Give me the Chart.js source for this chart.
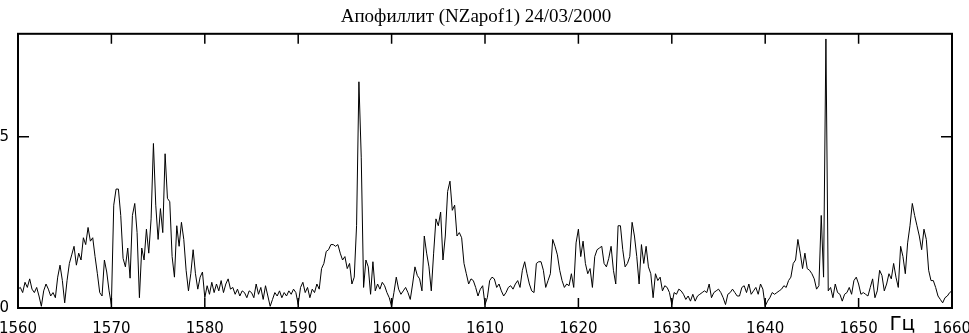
<!DOCTYPE html>
<html>
<head>
<meta charset="utf-8">
<script src="https://cdn.jsdelivr.net/npm/chart.js@4.4.0/dist/chart.umd.min.js"></script>
<style>
  html, body { margin: 0; padding: 0; background: #fff; }
</style>
</head>
<body>
<canvas id="grafica" width="969" height="333"></canvas>
<script>
const titulo = 'Апофиллит (NZapof1) 24/03/2000';
const unidad = 'Гц';
const frecInicio = 1560;
const paso = 0.25;
const ticksX = [1560, 1570, 1580, 1590, 1600, 1610, 1620, 1630, 1640, 1650, 1660];
const ticksY = [0, 5];

// amplitud cada 0.25 Hz, una lista por decena de Hz
const a1560 = [0.55, 0.6, 0.45, 0.75, 0.6, 0.85, 0.55, 0.45, 0.6, 0.35,
               0.05, 0.5, 0.7, 0.55, 0.35, 0.45, 0.3, 0.9, 1.25, 0.8,
               0.15, 0.8, 1.3, 1.55, 1.8, 1.25, 1.6, 1.4, 2.05, 1.85,
               2.35, 1.95, 2.05, 1.5, 1.0, 0.45, 0.35, 1.4, 1.05, 0.5];
const a1570 = [0.1, 3.0, 3.47, 3.47, 2.7, 1.45, 1.2, 1.75, 0.87, 2.7,
               3.05, 2.2, 0.3, 1.75, 1.4, 2.3, 1.6, 2.6, 4.8, 3.0,
               2.0, 2.9, 2.2, 4.5, 3.2, 3.1, 1.5, 0.9, 2.4, 1.8,
               2.5, 2.0, 1.1, 0.5, 1.0, 1.7, 1.0, 0.55, 0.9, 1.05];
const a1580 = [0.3, 0.65, 0.4, 0.75, 0.45, 0.7, 0.5, 0.8, 0.45, 0.7,
               0.85, 0.55, 0.6, 0.4, 0.55, 0.35, 0.5, 0.45, 0.3, 0.5,
               0.45, 0.3, 0.7, 0.4, 0.6, 0.25, 0.65, 0.35, 0.05, 0.25,
               0.45, 0.35, 0.5, 0.3, 0.45, 0.35, 0.5, 0.4, 0.55, 0.45];
const a1590 = [0.1, 0.6, 0.75, 0.45, 0.6, 0.3, 0.55, 0.45, 0.7, 0.55,
               1.15, 1.3, 1.65, 1.7, 1.85, 1.85, 1.8, 1.85, 1.6, 1.4,
               1.5, 1.15, 1.3, 0.7, 0.9, 2.4, 6.6, 4.4, 0.6, 1.4,
               1.2, 0.4, 1.35, 0.5, 0.7, 0.55, 0.75, 0.65, 0.45, 0.3];
const a1600 = [0.05, 0.45, 0.9, 0.55, 0.4, 0.5, 0.6, 0.45, 0.25, 0.7,
               1.2, 0.95, 0.85, 0.5, 2.1, 1.6, 1.2, 0.5, 1.6, 2.6,
               2.4, 2.8, 1.4, 2.1, 3.4, 3.7, 2.85, 3.0, 2.1, 2.2,
               2.05, 1.3, 1.0, 0.7, 0.85, 0.8, 0.6, 0.35, 0.55, 0.65];
const a1610 = [0.1, 0.3, 0.8, 0.9, 0.85, 0.6, 0.7, 0.5, 0.35, 0.45,
               0.6, 0.65, 0.55, 0.7, 0.8, 0.6, 1.1, 1.35, 1.0, 0.7,
               0.5, 0.45, 1.3, 1.35, 1.35, 1.1, 0.6, 0.8, 1.0, 2.0,
               1.8, 1.55, 1.1, 0.8, 0.6, 0.7, 0.65, 1.0, 0.6, 1.9];
const a1620 = [2.3, 1.5, 1.95, 1.3, 1.0, 1.15, 0.6, 1.5, 1.7, 1.75,
               1.8, 1.3, 1.2, 1.45, 1.8, 1.1, 0.7, 2.4, 2.4, 1.7,
               1.2, 1.3, 1.5, 2.5, 2.1, 1.5, 0.7, 1.85, 1.3, 1.8,
               1.2, 1.0, 0.3, 1.0, 0.8, 0.9, 0.5, 0.65, 0.6, 0.45];
const a1630 = [0.1, 0.45, 0.4, 0.55, 0.5, 0.4, 0.25, 0.35, 0.2, 0.4,
               0.2, 0.35, 0.4, 0.45, 0.5, 0.45, 0.7, 0.3, 0.45, 0.5,
               0.55, 0.45, 0.3, 0.1, 0.4, 0.45, 0.55, 0.45, 0.35, 0.35,
               0.6, 0.65, 0.45, 0.7, 0.4, 0.5, 0.6, 0.4, 0.7, 0.55];
const a1640 = [0.05, 0.2, 0.3, 0.45, 0.4, 0.45, 0.5, 0.55, 0.65, 0.6,
               0.8, 0.9, 1.3, 1.4, 2.0, 1.6, 1.15, 1.6, 1.15, 1.1,
               1.0, 0.85, 0.55, 0.65, 2.7, 0.9, 7.85, 0.5, 0.6, 0.3,
               0.7, 0.45, 0.4, 0.2, 0.4, 0.45, 0.6, 0.4, 0.8, 0.9];
const a1650 = [0.7, 0.4, 0.45, 0.4, 0.35, 0.6, 0.85, 0.3, 0.5, 1.1,
               0.95, 0.5, 0.7, 1.0, 0.85, 1.3, 0.9, 0.6, 1.8, 1.5,
               1.0, 1.9, 2.4, 3.05, 2.7, 2.4, 2.1, 1.7, 2.3, 2.0,
               1.1, 0.8, 0.8, 0.6, 0.35, 0.25, 0.15, 0.3, 0.35, 0.45,
               0.5];

const amplitudes = [].concat(a1560, a1570, a1580, a1590, a1600, a1610, a1620, a1630, a1640, a1650);
const puntos = amplitudes.map((v, i) => ({ x: frecInicio + i * paso, y: v }));

const fuenteEjes = { family: 'DejaVu Sans', size: 15 };

// marco, marcas hacia dentro y unidad de frecuencia
const marco = {
  id: 'marco',
  afterDatasetsDraw(chart) {
    const { ctx, chartArea: a, scales: { x, y } } = chart;
    ctx.save();
    ctx.strokeStyle = '#000';
    ctx.lineWidth = 2;
    ctx.strokeRect(a.left, a.top, a.right - a.left, a.bottom - a.top);
    ctx.lineWidth = 1.5;
    ctx.beginPath();
    x.ticks.forEach(t => {
      const px = x.getPixelForValue(t.value);
      ctx.moveTo(px, a.bottom); ctx.lineTo(px, a.bottom - 10);
      ctx.moveTo(px, a.top); ctx.lineTo(px, a.top + 10);
    });
    y.ticks.forEach(t => {
      const py = y.getPixelForValue(t.value);
      ctx.moveTo(a.left, py); ctx.lineTo(a.left + 11, py);
      ctx.moveTo(a.right, py); ctx.lineTo(a.right - 11, py);
    });
    ctx.stroke();
    ctx.fillStyle = '#000';
    ctx.font = '20px "DejaVu Sans"';
    ctx.textBaseline = 'alphabetic';
    ctx.textAlign = 'left';
    ctx.fillText(unidad, x.getPixelForValue(1653.3), 330);
    ctx.restore();
  }
};

new Chart(document.getElementById('grafica'), {
  type: 'line',
  data: {
    datasets: [{
      data: puntos,
      borderColor: '#000',
      borderWidth: 1,
      pointRadius: 0,
      tension: 0,
      fill: false
    }]
  },
  options: {
    responsive: false,
    animation: false,
    devicePixelRatio: 1,
    layout: { padding: { left: 0, right: 17, top: 0, bottom: 0 } },
    plugins: {
      legend: { display: false },
      tooltip: { enabled: false },
      title: {
        display: true,
        text: titulo,
        color: '#000',
        font: { family: 'Liberation Serif', size: 19, weight: 'normal' },
        padding: { top: 6, bottom: 5 }
      }
    },
    scales: {
      x: {
        type: 'linear',
        min: 1560,
        max: 1660,
        grid: { display: false, drawTicks: false },
        border: { display: false },
        ticks: {
          autoSkip: false, maxRotation: 0, padding: 12, color: '#000', font: fuenteEjes,
          callback: v => String(v)
        },
        afterBuildTicks: s => { s.ticks = ticksX.map(v => ({ value: v })); },
        afterFit: s => { s.height = 25; s.paddingLeft = 0; s.paddingRight = 0; }
      },
      y: {
        min: 0,
        max: 8,
        grid: { display: false, drawTicks: false },
        border: { display: false },
        ticks: { padding: 9, color: '#000', font: fuenteEjes, callback: v => String(v) },
        afterBuildTicks: s => { s.ticks = ticksY.map(v => ({ value: v })); },
        afterFit: s => { s.width = 18; s.paddingTop = 0; s.paddingBottom = 0; }
      }
    }
  },
  plugins: [marco]
});
</script>
</body>
</html>
